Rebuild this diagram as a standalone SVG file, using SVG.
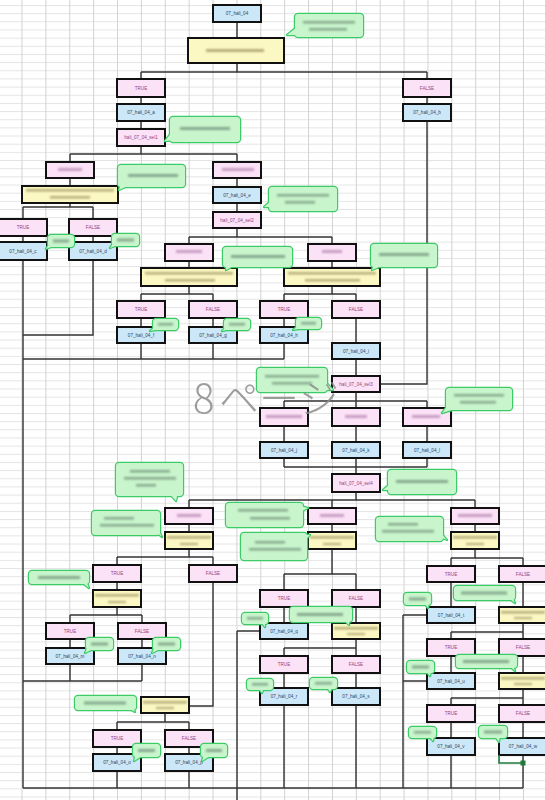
<svg xmlns="http://www.w3.org/2000/svg" xmlns:xlink="http://www.w3.org/1999/xlink" width="545" height="800" viewBox="0 0 545 800">
<style>
.b{fill:#cce8f8;stroke:#111;stroke-width:2}
.p{fill:#fbe2f7;stroke:#111;stroke-width:2}
.y{fill:#fcf8c4;stroke:#111;stroke-width:2}
.tb{font-family:"Liberation Sans",Arial,sans-serif;font-size:4.6px;fill:#2b4466;text-anchor:middle}
.tp{font-family:"Liberation Sans",Arial,sans-serif;font-size:4.6px;fill:#9a3f7a;text-anchor:middle}
.sp{fill:#c89cc2;filter:url(#bl)}
.sy{fill:#b6ad78;filter:url(#bl)}
.sc{fill:#86a98e;filter:url(#bl)}
.cs{fill:#3bcc68;stroke:#3bcc68;stroke-width:2.4;stroke-linejoin:round}
.cf{fill:#c9f5cc;stroke:none}
#connectors path{fill:none;stroke:#333;stroke-width:1.4}
.wm{font-family:"Noto Sans CJK JP","Liberation Sans",sans-serif;font-size:40px;fill:#8c8c8c;font-weight:300;opacity:.85}
</style>
<defs>
<pattern id="grid" x="21.5" y="5" width="23.88" height="8.16" patternUnits="userSpaceOnUse">
<path d="M0,0.5H23.88" stroke="#e4e4e4" stroke-width="1"/>
<path d="M0.5,0V8.16" stroke="#d2d2d2" stroke-width="1"/>
</pattern>
<filter id="bl" x="-30%" y="-150%" width="160%" height="400%"><feGaussianBlur stdDeviation="0.8"/></filter>
<g id="k1"><rect x="295" y="14" width="68" height="23" rx="3"/><polygon points="297,27 287,35 303,35"/></g>
<g id="k2"><rect x="170" y="117" width="70" height="25" rx="3"/><polygon points="172,132 165,141 178,140"/></g>
<g id="k3"><rect x="118" y="165" width="67" height="22" rx="3"/><polygon points="121,184 119,190 130,185"/></g>
<g id="k4"><rect x="48" y="235" width="26" height="12" rx="3"/><polygon points="50,243 46,249 56,245"/></g>
<g id="k5"><rect x="112" y="234" width="27" height="12" rx="3"/><polygon points="114,242 110,248 120,244"/></g>
<g id="k6"><rect x="269" y="187" width="68" height="24" rx="3"/><polygon points="271,201 264,207 273,207"/></g>
<g id="k7"><rect x="223" y="247" width="69" height="20" rx="3"/><polygon points="226,264 226,270 235,265"/></g>
<g id="k8"><rect x="371" y="244" width="66" height="23" rx="3"/><polygon points="374,264 372,270 384,265"/></g>
<g id="k9"><rect x="153" y="319" width="25" height="11" rx="3"/><polygon points="155,327 150,331 160,329"/></g>
<g id="k10"><rect x="224" y="319" width="26" height="11" rx="3"/><polygon points="226,327 222,331 231,329"/></g>
<g id="k11"><rect x="296" y="318" width="25" height="11" rx="3"/><polygon points="298,326 293,330 303,328"/></g>
<g id="k12"><rect x="257" y="368" width="70" height="24" rx="3"/><polygon points="324,380 333,390 322,390"/></g>
<g id="k13"><rect x="446" y="388" width="66" height="22" rx="3"/><polygon points="449,404 442,413 458,408"/></g>
<g id="k14"><rect x="388" y="470" width="68" height="24" rx="3"/><polygon points="390,484 383,490 392,490"/></g>
<g id="k15"><rect x="116" y="463" width="67" height="33" rx="3"/><polygon points="168,492 176,501 178,492"/></g>
<g id="k16"><rect x="92" y="511" width="68" height="24" rx="3"/><polygon points="155,531 162,537 158,529"/></g>
<g id="k17"><rect x="226" y="503" width="77" height="24" rx="3"/><polygon points="300,506 308,508 300,512"/></g>
<g id="k18"><rect x="241" y="533" width="66" height="27" rx="3"/><polygon points="304,535 310,535 304,541"/></g>
<g id="k19"><rect x="376" y="517" width="67" height="24" rx="3"/><polygon points="438,536 447,540 440,532"/></g>
<g id="k20"><rect x="29" y="571" width="60" height="13" rx="3"/><polygon points="80,581 89,588 86,581"/></g>
<g id="k21"><rect x="86" y="638" width="27" height="12" rx="3"/><polygon points="88,646 85,653 93,649"/></g>
<g id="k22"><rect x="153" y="638" width="27" height="12" rx="3"/><polygon points="155,646 152,653 160,649"/></g>
<g id="k23"><rect x="75" y="696" width="61" height="14" rx="3"/><polygon points="126,707 135,712 132,707"/></g>
<g id="k24"><rect x="133" y="744" width="27" height="13" rx="3"/><polygon points="136,754 134,761 142,756"/></g>
<g id="k25"><rect x="201" y="744" width="26" height="13" rx="3"/><polygon points="204,754 202,761 210,756"/></g>
<g id="k26"><rect x="242" y="613" width="26" height="11" rx="3"/><polygon points="260,621 265,627 265,620"/></g>
<g id="k27"><rect x="290" y="607" width="62" height="15" rx="3"/><polygon points="343,619 349,625 349,618"/></g>
<g id="k28"><rect x="247" y="679" width="26" height="11" rx="3"/><polygon points="258,687 262,693 264,687"/></g>
<g id="k29"><rect x="310" y="678" width="27" height="11" rx="3"/><polygon points="326,686 330,692 333,686"/></g>
<g id="k30"><rect x="454" y="586" width="61" height="14" rx="3"/><polygon points="507,597 515,603 512,597"/></g>
<g id="k31"><rect x="404" y="593" width="27" height="12" rx="3"/><polygon points="423,602 428,608 429,602"/></g>
<g id="k32"><rect x="456" y="655" width="61" height="13" rx="3"/><polygon points="508,665 515,671 513,665"/></g>
<g id="k33"><rect x="407" y="661" width="27" height="12" rx="3"/><polygon points="425,670 430,676 431,670"/></g>
<g id="k34"><rect x="409" y="727" width="27" height="11" rx="3"/><polygon points="428,735 433,741 434,735"/></g>
<g id="k35"><rect x="479" y="726" width="28" height="12" rx="3"/><polygon points="494,735 499,742 500,735"/></g>
</defs>

<rect x="0" y="0" width="545" height="800" fill="#ffffff"/>
<rect x="0" y="0" width="545" height="800" fill="url(#grid)"/>

<g id="connectors">
<path d="M237,22V38 M237,63V72 M141,72H427 M141,72V79 M427,72V79 M141,97V104 M141,121V129 M141,146V154 M70,154H237 M70,154V162 M237,154V162 M427,97V104 M427,121V384H380 M70,178V186 M70,203V207 M23,207H93 M23,207V219 M93,207V219 M23,236V242 M93,236V242 M23,260V788 M93,260V335H23 M237,178V187 M237,203V212 M237,228V237 M189,237H332 M189,237V244 M332,237V244 M189,261V268 M332,261V268 M189,286V294 M141,294H213 M141,294V301 M213,294V301 M332,286V294 M284,294H356 M284,294V301 M356,294V301 M141,318V327 M213,318V327 M284,318V327 M356,318V343 M141,343V359 M213,343V359 M284,343V359 M23,359H284 M356,359V376 M356,392V401 M284,401H427 M284,401V408 M356,401V408 M427,401V408 M284,426V442 M356,426V442 M427,426V442 M284,458V467 M427,458V467 M284,467H427 M356,458V474 M356,492V500 M189,500H475 M189,500V508 M332,500V508 M475,500V508 M189,524V532 M332,524V532 M475,524V532 M189,549V557 M117,557H213 M117,557V565 M213,557V565 M117,582V590 M117,607V615 M70,615H142 M70,615V623 M142,615V623 M70,639V648 M142,639V648 M70,664V681 M142,664V681 M23,681H142 M213,582V706H189 M165,713V722 M117,722H189 M117,722V730 M189,722V730 M117,747V754 M189,747V754 M117,771V788 M189,771V788 M332,549V574 M284,574H356 M284,574V590 M356,574V590 M284,607V623 M356,607V623 M260,631H237 M237,631V800 M356,639V648 M284,648H356 M284,648V656 M356,648V656 M284,673V688 M356,673V688 M284,705V788 M356,705V788 M475,549V558 M451,558H523 M451,558V566 M523,558V566 M451,582V607 M523,582V607 M427,615H403 M403,615V788 M523,623V632 M451,632H523 M451,632V639 M523,632V639 M451,656V673 M523,656V673 M427,681H403 M523,689V698 M451,698H523 M451,698V705 M523,698V705 M451,722V738 M523,722V738 M451,755V788 M523,755V788 M23,788H523"/>
</g>

<g id="n-07_hali_04"><rect class="b" x="213" y="5" width="48" height="17"/><text class="tb" x="237" y="15.1">07_hali_04</text></g>
<g id="y0"><rect class="y" x="188" y="38" width="96" height="25"/><rect class="sy" x="206" y="49" width="58" height="3"/></g>
<g id="t1"><rect class="p" x="117" y="79" width="48" height="18"/><text class="tp" x="141" y="89.6">TRUE</text></g>
<g id="f1"><rect class="p" x="403" y="79" width="48" height="18"/><text class="tp" x="427" y="89.6">FALSE</text></g>
<g id="n-a"><rect class="b" x="117" y="104" width="48" height="17"/><text class="tb" x="141" y="114.1">07_hali_04_a</text></g>
<g id="n-b"><rect class="b" x="403" y="104" width="48" height="17"/><text class="tb" x="427" y="114.1">07_hali_04_b</text></g>
<g id="sel1"><rect class="p" x="117" y="129" width="48" height="17"/><text class="tp" x="141" y="139.1">hali_07_04_sel1</text></g>
<g id="c1"><rect class="p" x="46" y="162" width="48" height="16"/><rect class="sp" x="58" y="168" width="24" height="3"/></g>
<g id="c2"><rect class="p" x="213" y="162" width="48" height="16"/><rect class="sp" x="222" y="168" width="32" height="3"/></g>
<g id="y1"><rect class="y" x="22" y="186" width="96" height="17"/><rect class="sy" x="26" y="189" width="88" height="2.5"/><rect class="sy" x="50" y="196" width="40" height="2.5"/></g>
<g id="t2"><rect class="p" x="-1" y="219" width="48" height="17"/><text class="tp" x="23" y="229.1">TRUE</text></g>
<g id="f2"><rect class="p" x="69" y="219" width="48" height="17"/><text class="tp" x="93" y="229.1">FALSE</text></g>
<g id="n-c"><rect class="b" x="-1" y="242" width="48" height="18"/><text class="tb" x="23" y="252.6">07_hali_04_c</text></g>
<g id="n-d"><rect class="b" x="69" y="242" width="48" height="18"/><text class="tb" x="93" y="252.6">07_hali_04_d</text></g>
<g id="n-e"><rect class="b" x="213" y="187" width="48" height="16"/><text class="tb" x="237" y="196.6">07_hali_04_e</text></g>
<g id="sel2"><rect class="p" x="213" y="212" width="48" height="16"/><text class="tp" x="237" y="221.6">hali_07_04_sel2</text></g>
<g id="c3"><rect class="p" x="165" y="244" width="48" height="17"/><rect class="sp" x="176" y="250" width="26" height="3"/></g>
<g id="c4"><rect class="p" x="308" y="244" width="48" height="17"/><rect class="sp" x="322" y="250" width="20" height="3"/></g>
<g id="y2"><rect class="y" x="141" y="268" width="96" height="18"/><rect class="sy" x="145" y="272" width="88" height="2.5"/><rect class="sy" x="165" y="279" width="50" height="2.5"/></g>
<g id="y3"><rect class="y" x="284" y="268" width="96" height="18"/><rect class="sy" x="288" y="272" width="88" height="2.5"/><rect class="sy" x="305" y="279" width="55" height="2.5"/></g>
<g id="t3"><rect class="p" x="117" y="301" width="48" height="17"/><text class="tp" x="141" y="311.1">TRUE</text></g>
<g id="f3"><rect class="p" x="189" y="301" width="48" height="17"/><text class="tp" x="213" y="311.1">FALSE</text></g>
<g id="t4"><rect class="p" x="260" y="301" width="48" height="17"/><text class="tp" x="284" y="311.1">TRUE</text></g>
<g id="f4"><rect class="p" x="332" y="301" width="48" height="17"/><text class="tp" x="356" y="311.1">FALSE</text></g>
<g id="n-f"><rect class="b" x="117" y="327" width="48" height="16"/><text class="tb" x="141" y="336.6">07_hali_04_f</text></g>
<g id="n-g"><rect class="b" x="189" y="327" width="48" height="16"/><text class="tb" x="213" y="336.6">07_hali_04_g</text></g>
<g id="n-h"><rect class="b" x="260" y="327" width="48" height="16"/><text class="tb" x="284" y="336.6">07_hali_04_h</text></g>
<g id="n-i"><rect class="b" x="332" y="343" width="48" height="16"/><text class="tb" x="356" y="352.6">07_hali_04_i</text></g>
<g id="sel3"><rect class="p" x="332" y="376" width="48" height="16"/><text class="tp" x="356" y="385.6">hali_07_04_sel3</text></g>
<g id="c5"><rect class="p" x="260" y="408" width="48" height="18"/><rect class="sp" x="266" y="415" width="36" height="3"/></g>
<g id="c6"><rect class="p" x="332" y="408" width="48" height="18"/><rect class="sp" x="345" y="415" width="22" height="3"/></g>
<g id="c7"><rect class="p" x="403" y="408" width="48" height="18"/><rect class="sp" x="412" y="415" width="28" height="3"/></g>
<g id="n-j"><rect class="b" x="260" y="442" width="48" height="16"/><text class="tb" x="284" y="451.6">07_hali_04_j</text></g>
<g id="n-k"><rect class="b" x="332" y="442" width="48" height="16"/><text class="tb" x="356" y="451.6">07_hali_04_k</text></g>
<g id="n-l"><rect class="b" x="403" y="442" width="48" height="16"/><text class="tb" x="427" y="451.6">07_hali_04_l</text></g>
<g id="sel4"><rect class="p" x="332" y="474" width="48" height="18"/><text class="tp" x="356" y="484.6">hali_07_04_sel4</text></g>
<g id="c8"><rect class="p" x="165" y="508" width="48" height="16"/><rect class="sp" x="177" y="514" width="24" height="3"/></g>
<g id="c9"><rect class="p" x="308" y="508" width="48" height="16"/><rect class="sp" x="320" y="514" width="24" height="3"/></g>
<g id="c10"><rect class="p" x="451" y="508" width="48" height="16"/><rect class="sp" x="458" y="514" width="34" height="3"/></g>
<g id="y4"><rect class="y" x="165" y="532" width="48" height="17"/><rect class="sy" x="167" y="536" width="44" height="2.5"/><rect class="sy" x="180" y="543" width="18" height="2"/></g>
<g id="y5"><rect class="y" x="308" y="532" width="48" height="17"/><rect class="sy" x="310" y="536" width="44" height="2.5"/><rect class="sy" x="323" y="543" width="18" height="2"/></g>
<g id="y6"><rect class="y" x="451" y="532" width="48" height="17"/><rect class="sy" x="453" y="536" width="44" height="2.5"/><rect class="sy" x="466" y="543" width="18" height="2"/></g>
<g id="t5"><rect class="p" x="93" y="565" width="48" height="17"/><text class="tp" x="117" y="575.1">TRUE</text></g>
<g id="f5"><rect class="p" x="189" y="565" width="48" height="17"/><text class="tp" x="213" y="575.1">FALSE</text></g>
<g id="y7"><rect class="y" x="93" y="590" width="48" height="17"/><rect class="sy" x="95" y="594" width="44" height="2.5"/><rect class="sy" x="108" y="601" width="18" height="2"/></g>
<g id="t6"><rect class="p" x="46" y="623" width="48" height="16"/><text class="tp" x="70" y="632.6">TRUE</text></g>
<g id="f6"><rect class="p" x="118" y="623" width="48" height="16"/><text class="tp" x="142" y="632.6">FALSE</text></g>
<g id="n-m"><rect class="b" x="46" y="648" width="48" height="16"/><text class="tb" x="70" y="657.6">07_hali_04_m</text></g>
<g id="n-n"><rect class="b" x="118" y="648" width="48" height="16"/><text class="tb" x="142" y="657.6">07_hali_04_n</text></g>
<g id="y8"><rect class="y" x="141" y="697" width="48" height="16"/><rect class="sy" x="143" y="701" width="44" height="2.5"/><rect class="sy" x="156" y="707" width="18" height="2"/></g>
<g id="t7"><rect class="p" x="93" y="730" width="48" height="17"/><text class="tp" x="117" y="740.1">TRUE</text></g>
<g id="f7"><rect class="p" x="165" y="730" width="48" height="17"/><text class="tp" x="189" y="740.1">FALSE</text></g>
<g id="n-o"><rect class="b" x="93" y="754" width="48" height="17"/><text class="tb" x="117" y="764.1">07_hali_04_o</text></g>
<g id="n-p"><rect class="b" x="165" y="754" width="48" height="17"/><text class="tb" x="189" y="764.1">07_hali_04_p</text></g>
<g id="t8"><rect class="p" x="260" y="590" width="48" height="17"/><text class="tp" x="284" y="600.1">TRUE</text></g>
<g id="f8"><rect class="p" x="332" y="590" width="48" height="17"/><text class="tp" x="356" y="600.1">FALSE</text></g>
<g id="n-q"><rect class="b" x="260" y="623" width="48" height="16"/><text class="tb" x="284" y="632.6">07_hali_04_q</text></g>
<g id="y9"><rect class="y" x="332" y="623" width="48" height="16"/><rect class="sy" x="334" y="627" width="44" height="2.5"/><rect class="sy" x="347" y="633" width="18" height="2"/></g>
<g id="t9"><rect class="p" x="260" y="656" width="48" height="17"/><text class="tp" x="284" y="666.1">TRUE</text></g>
<g id="f9"><rect class="p" x="332" y="656" width="48" height="17"/><text class="tp" x="356" y="666.1">FALSE</text></g>
<g id="n-r"><rect class="b" x="260" y="688" width="48" height="17"/><text class="tb" x="284" y="698.1">07_hali_04_r</text></g>
<g id="n-s"><rect class="b" x="332" y="688" width="48" height="17"/><text class="tb" x="356" y="698.1">07_hali_04_s</text></g>
<g id="t10"><rect class="p" x="427" y="566" width="48" height="16"/><text class="tp" x="451" y="575.6">TRUE</text></g>
<g id="f10"><rect class="p" x="499" y="566" width="48" height="16"/><text class="tp" x="523" y="575.6">FALSE</text></g>
<g id="n-t"><rect class="b" x="427" y="607" width="48" height="16"/><text class="tb" x="451" y="616.6">07_hali_04_t</text></g>
<g id="y10"><rect class="y" x="499" y="607" width="48" height="16"/><rect class="sy" x="501" y="611" width="44" height="2.5"/><rect class="sy" x="514" y="617" width="18" height="2"/></g>
<g id="t11"><rect class="p" x="427" y="639" width="48" height="17"/><text class="tp" x="451" y="649.1">TRUE</text></g>
<g id="f11"><rect class="p" x="499" y="639" width="48" height="17"/><text class="tp" x="523" y="649.1">FALSE</text></g>
<g id="n-u"><rect class="b" x="427" y="673" width="48" height="16"/><text class="tb" x="451" y="682.6">07_hali_04_u</text></g>
<g id="y11"><rect class="y" x="499" y="673" width="48" height="16"/><rect class="sy" x="501" y="677" width="44" height="2.5"/><rect class="sy" x="514" y="683" width="18" height="2"/></g>
<g id="t12"><rect class="p" x="427" y="705" width="48" height="17"/><text class="tp" x="451" y="715.1">TRUE</text></g>
<g id="f12"><rect class="p" x="499" y="705" width="48" height="17"/><text class="tp" x="523" y="715.1">FALSE</text></g>
<g id="n-v"><rect class="b" x="427" y="738" width="48" height="17"/><text class="tb" x="451" y="748.1">07_hali_04_v</text></g>
<g id="n-w"><rect class="b" x="499" y="738" width="48" height="17"/><text class="tb" x="523" y="748.1">07_hali_04_w</text></g>

<g id="selected-connector"><path d="M499,755V763H523" fill="none" stroke="#1e7a3a" stroke-width="1.6"/><rect x="520.5" y="760.5" width="5" height="5" fill="#1e7a3a"/></g>

<g id="callouts">
<g id="callout-1"><use href="#k1" class="cs"/><use href="#k1" class="cf"/><rect class="sc" x="303" y="21" width="52" height="2.5"/><rect class="sc" x="309" y="28" width="38" height="2.5"/></g>
<g id="callout-2"><use href="#k2" class="cs"/><use href="#k2" class="cf"/><rect class="sc" x="180" y="127" width="50" height="3"/></g>
<g id="callout-3"><use href="#k3" class="cs"/><use href="#k3" class="cf"/><rect class="sc" x="128" y="174" width="50" height="3"/></g>
<g id="callout-4"><use href="#k4" class="cs"/><use href="#k4" class="cf"/><rect class="sc" x="53" y="239.5" width="16" height="3"/></g>
<g id="callout-5"><use href="#k5" class="cs"/><use href="#k5" class="cf"/><rect class="sc" x="117" y="238.5" width="17" height="3"/></g>
<g id="callout-6"><use href="#k6" class="cs"/><use href="#k6" class="cf"/><rect class="sc" x="277" y="194" width="52" height="2.5"/><rect class="sc" x="285" y="201" width="30" height="2.5"/></g>
<g id="callout-7"><use href="#k7" class="cs"/><use href="#k7" class="cf"/><rect class="sc" x="231" y="255" width="54" height="3"/></g>
<g id="callout-8"><use href="#k8" class="cs"/><use href="#k8" class="cf"/><rect class="sc" x="379" y="253" width="50" height="3"/></g>
<g id="callout-9"><use href="#k9" class="cs"/><use href="#k9" class="cf"/><rect class="sc" x="158" y="323" width="15" height="2.5"/></g>
<g id="callout-10"><use href="#k10" class="cs"/><use href="#k10" class="cf"/><rect class="sc" x="229" y="323" width="16" height="2.5"/></g>
<g id="callout-11"><use href="#k11" class="cs"/><use href="#k11" class="cf"/><rect class="sc" x="301" y="322" width="15" height="2.5"/></g>
<g id="callout-12"><use href="#k12" class="cs"/><use href="#k12" class="cf"/><rect class="sc" x="265" y="375" width="54" height="2.5"/><rect class="sc" x="272" y="382" width="40" height="2.5"/></g>
<g id="callout-13"><use href="#k13" class="cs"/><use href="#k13" class="cf"/><rect class="sc" x="454" y="394" width="50" height="2.5"/><rect class="sc" x="460" y="401" width="36" height="2.5"/></g>
<g id="callout-14"><use href="#k14" class="cs"/><use href="#k14" class="cf"/><rect class="sc" x="396" y="480" width="52" height="3"/></g>
<g id="callout-15"><use href="#k15" class="cs"/><use href="#k15" class="cf"/><rect class="sc" x="130" y="470" width="40" height="2.5"/><rect class="sc" x="124" y="477" width="52" height="2.5"/><rect class="sc" x="136" y="484" width="20" height="2.5"/></g>
<g id="callout-16"><use href="#k16" class="cs"/><use href="#k16" class="cf"/><rect class="sc" x="104" y="517" width="30" height="2.5"/><rect class="sc" x="100" y="524" width="54" height="2.5"/></g>
<g id="callout-17"><use href="#k17" class="cs"/><use href="#k17" class="cf"/><rect class="sc" x="238" y="509" width="50" height="2.5"/><rect class="sc" x="250" y="517" width="40" height="2.5"/></g>
<g id="callout-18"><use href="#k18" class="cs"/><use href="#k18" class="cf"/><rect class="sc" x="255" y="541" width="30" height="2.5"/><rect class="sc" x="249" y="548" width="52" height="2.5"/></g>
<g id="callout-19"><use href="#k19" class="cs"/><use href="#k19" class="cf"/><rect class="sc" x="388" y="523" width="30" height="2.5"/><rect class="sc" x="382" y="530" width="52" height="2.5"/></g>
<g id="callout-20"><use href="#k20" class="cs"/><use href="#k20" class="cf"/><rect class="sc" x="38" y="576" width="42" height="3"/></g>
<g id="callout-21"><use href="#k21" class="cs"/><use href="#k21" class="cf"/><rect class="sc" x="91" y="642.5" width="17" height="3"/></g>
<g id="callout-22"><use href="#k22" class="cs"/><use href="#k22" class="cf"/><rect class="sc" x="158" y="642.5" width="17" height="3"/></g>
<g id="callout-23"><use href="#k23" class="cs"/><use href="#k23" class="cf"/><rect class="sc" x="84" y="701.5" width="42" height="3"/></g>
<g id="callout-24"><use href="#k24" class="cs"/><use href="#k24" class="cf"/><rect class="sc" x="138" y="749" width="17" height="3"/></g>
<g id="callout-25"><use href="#k25" class="cs"/><use href="#k25" class="cf"/><rect class="sc" x="206" y="749" width="16" height="3"/></g>
<g id="callout-26"><use href="#k26" class="cs"/><use href="#k26" class="cf"/><rect class="sc" x="247" y="617" width="16" height="2.5"/></g>
<g id="callout-27"><use href="#k27" class="cs"/><use href="#k27" class="cf"/><rect class="sc" x="297" y="613" width="46" height="3"/></g>
<g id="callout-28"><use href="#k28" class="cs"/><use href="#k28" class="cf"/><rect class="sc" x="252" y="683" width="16" height="2.5"/></g>
<g id="callout-29"><use href="#k29" class="cs"/><use href="#k29" class="cf"/><rect class="sc" x="315" y="682" width="17" height="2.5"/></g>
<g id="callout-30"><use href="#k30" class="cs"/><use href="#k30" class="cf"/><rect class="sc" x="461" y="591.5" width="46" height="3"/></g>
<g id="callout-31"><use href="#k31" class="cs"/><use href="#k31" class="cf"/><rect class="sc" x="409" y="597.5" width="17" height="3"/></g>
<g id="callout-32"><use href="#k32" class="cs"/><use href="#k32" class="cf"/><rect class="sc" x="463" y="660" width="46" height="3"/></g>
<g id="callout-33"><use href="#k33" class="cs"/><use href="#k33" class="cf"/><rect class="sc" x="412" y="665.5" width="17" height="3"/></g>
<g id="callout-34"><use href="#k34" class="cs"/><use href="#k34" class="cf"/><rect class="sc" x="414" y="731" width="17" height="2.5"/></g>
<g id="callout-35"><use href="#k35" class="cs"/><use href="#k35" class="cf"/><rect class="sc" x="484" y="730.5" width="18" height="3"/></g>
</g>

<g id="page-label">
<text class="wm" y="413"><tspan x="193">8</tspan><tspan x="219">ペ</tspan><tspan x="259">ー</tspan><tspan x="299">ジ</tspan></text>
</g>
</svg>
